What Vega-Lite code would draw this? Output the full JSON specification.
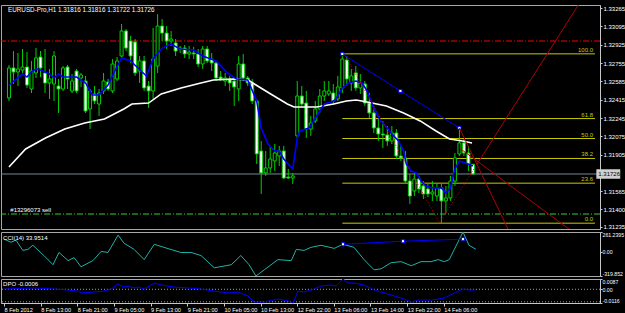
{
"$schema":"https://vega.github.io/schema/vega-lite/v6.json",
"background":"#000000",
"padding":{"top":4,"left":0,"right":0,"bottom":0},
"spacing":3,
"bounds":"flush",
"resolve":{"scale":{"x":"independent","y":"independent"}},
"config":{"view":{"stroke":"#a8a8a8","strokeWidth":1},"font":"Liberation Sans",
 "axis":{"grid":false,"title":null,"labelColor":"#ffffff","domainColor":"#c8c8c8","tickColor":"#c8c8c8","labelFontSize":6,"tickSize":2,"labelPadding":1,"labelFont":"Liberation Sans","labelOverlap":false}},
"datasets":{
"candles":[
{"i":0,"o":1.32431,"h":1.32737,"l":1.32403,"c":1.32709},
{"i":1,"o":1.32709,"h":1.32866,"l":1.32561,"c":1.32672},
{"i":2,"o":1.32672,"h":1.32848,"l":1.32542,"c":1.32700},
{"i":3,"o":1.32690,"h":1.32885,"l":1.32663,"c":1.32718},
{"i":4,"o":1.32718,"h":1.32857,"l":1.32524,"c":1.32551},
{"i":5,"o":1.32514,"h":1.32774,"l":1.32477,"c":1.32681},
{"i":6,"o":1.32663,"h":1.32894,"l":1.32616,"c":1.32802},
{"i":7,"o":1.32811,"h":1.32866,"l":1.32625,"c":1.32709},
{"i":8,"o":1.32663,"h":1.32885,"l":1.32477,"c":1.32570},
{"i":9,"o":1.32570,"h":1.32700,"l":1.32422,"c":1.32607},
{"i":10,"o":1.32561,"h":1.32866,"l":1.32403,"c":1.32820},
{"i":11,"o":1.32542,"h":1.32607,"l":1.32292,"c":1.32514},
{"i":12,"o":1.32514,"h":1.32727,"l":1.32496,"c":1.32709},
{"i":13,"o":1.32718,"h":1.32737,"l":1.32514,"c":1.32607},
{"i":14,"o":1.32496,"h":1.32653,"l":1.32477,"c":1.32588},
{"i":15,"o":1.32681,"h":1.32700,"l":1.32477,"c":1.32496},
{"i":16,"o":1.32616,"h":1.32663,"l":1.32533,"c":1.32644},
{"i":17,"o":1.32588,"h":1.32635,"l":1.32292,"c":1.32310},
{"i":18,"o":1.32329,"h":1.32514,"l":1.32143,"c":1.32496},
{"i":19,"o":1.32468,"h":1.32542,"l":1.32375,"c":1.32403},
{"i":20,"o":1.32375,"h":1.32514,"l":1.32264,"c":1.32477},
{"i":21,"o":1.32496,"h":1.32663,"l":1.32468,"c":1.32588},
{"i":22,"o":1.32579,"h":1.32607,"l":1.32496,"c":1.32514},
{"i":23,"o":1.32496,"h":1.32792,"l":1.32477,"c":1.32746},
{"i":24,"o":1.32607,"h":1.32811,"l":1.32588,"c":1.32774},
{"i":25,"o":1.32820,"h":1.33117,"l":1.32802,"c":1.33052},
{"i":26,"o":1.33052,"h":1.33070,"l":1.32866,"c":1.32894},
{"i":27,"o":1.32959,"h":1.33006,"l":1.32755,"c":1.32820},
{"i":28,"o":1.32950,"h":1.32978,"l":1.32635,"c":1.32663},
{"i":29,"o":1.32681,"h":1.32820,"l":1.32570,"c":1.32774},
{"i":30,"o":1.32774,"h":1.32820,"l":1.32496,"c":1.32524},
{"i":31,"o":1.32542,"h":1.32588,"l":1.32338,"c":1.32496},
{"i":32,"o":1.32496,"h":1.33080,"l":1.32422,"c":1.32792},
{"i":33,"o":1.32727,"h":1.33209,"l":1.32663,"c":1.33098},
{"i":34,"o":1.33098,"h":1.33163,"l":1.32959,"c":1.33033},
{"i":35,"o":1.33033,"h":1.33098,"l":1.32885,"c":1.32959},
{"i":36,"o":1.32959,"h":1.33052,"l":1.32913,"c":1.32978},
{"i":37,"o":1.32941,"h":1.32978,"l":1.32820,"c":1.32866},
{"i":38,"o":1.32885,"h":1.32913,"l":1.32848,"c":1.32894},
{"i":39,"o":1.32894,"h":1.32922,"l":1.32802,"c":1.32839},
{"i":40,"o":1.32839,"h":1.32913,"l":1.32792,"c":1.32857},
{"i":41,"o":1.32848,"h":1.32904,"l":1.32792,"c":1.32839},
{"i":42,"o":1.32839,"h":1.32885,"l":1.32718,"c":1.32746},
{"i":43,"o":1.32746,"h":1.32913,"l":1.32700,"c":1.32885},
{"i":44,"o":1.32885,"h":1.32913,"l":1.32755,"c":1.32774},
{"i":45,"o":1.32792,"h":1.32848,"l":1.32681,"c":1.32755},
{"i":46,"o":1.32755,"h":1.32774,"l":1.32588,"c":1.32616},
{"i":47,"o":1.32625,"h":1.32681,"l":1.32588,"c":1.32607},
{"i":48,"o":1.32588,"h":1.32663,"l":1.32542,"c":1.32616},
{"i":49,"o":1.32607,"h":1.32635,"l":1.32496,"c":1.32570},
{"i":50,"o":1.32588,"h":1.32625,"l":1.32357,"c":1.32533},
{"i":51,"o":1.32514,"h":1.32820,"l":1.32403,"c":1.32746},
{"i":52,"o":1.32746,"h":1.32839,"l":1.32588,"c":1.32616},
{"i":53,"o":1.32616,"h":1.32635,"l":1.32542,"c":1.32570},
{"i":54,"o":1.32570,"h":1.32607,"l":1.32375,"c":1.32403},
{"i":55,"o":1.32403,"h":1.32422,"l":1.31819,"c":1.31912},
{"i":56,"o":1.31939,"h":1.32032,"l":1.31541,"c":1.31736},
{"i":57,"o":1.31736,"h":1.31939,"l":1.31708,"c":1.31782},
{"i":58,"o":1.31782,"h":1.31986,"l":1.31736,"c":1.31865},
{"i":59,"o":1.31847,"h":1.32004,"l":1.31754,"c":1.31921},
{"i":60,"o":1.31893,"h":1.31986,"l":1.31800,"c":1.31939},
{"i":61,"o":1.31939,"h":1.31986,"l":1.31680,"c":1.31689},
{"i":62,"o":1.31698,"h":1.31773,"l":1.31680,"c":1.31689},
{"i":63,"o":1.31689,"h":1.31736,"l":1.31634,"c":1.31708},
{"i":64,"o":1.32079,"h":1.32588,"l":1.32060,"c":1.32449},
{"i":65,"o":1.32449,"h":1.32542,"l":1.32357,"c":1.32375},
{"i":66,"o":1.32384,"h":1.32496,"l":1.32060,"c":1.32143},
{"i":67,"o":1.32143,"h":1.32264,"l":1.32079,"c":1.32199},
{"i":68,"o":1.32218,"h":1.32403,"l":1.32199,"c":1.32329},
{"i":69,"o":1.32329,"h":1.32514,"l":1.32292,"c":1.32449},
{"i":70,"o":1.32449,"h":1.32588,"l":1.32403,"c":1.32496},
{"i":71,"o":1.32468,"h":1.32588,"l":1.32449,"c":1.32496},
{"i":72,"o":1.32477,"h":1.32561,"l":1.32375,"c":1.32403},
{"i":73,"o":1.32422,"h":1.32635,"l":1.32403,"c":1.32533},
{"i":74,"o":1.32524,"h":1.32839,"l":1.32477,"c":1.32792},
{"i":75,"o":1.32783,"h":1.32820,"l":1.32542,"c":1.32607},
{"i":76,"o":1.32570,"h":1.32700,"l":1.32496,"c":1.32635},
{"i":77,"o":1.32663,"h":1.32727,"l":1.32496,"c":1.32524},
{"i":78,"o":1.32524,"h":1.32653,"l":1.32468,"c":1.32570},
{"i":79,"o":1.32561,"h":1.32588,"l":1.32357,"c":1.32384},
{"i":80,"o":1.32384,"h":1.32477,"l":1.32245,"c":1.32292},
{"i":81,"o":1.32292,"h":1.32357,"l":1.32106,"c":1.32153},
{"i":82,"o":1.32153,"h":1.32236,"l":1.32032,"c":1.32097},
{"i":83,"o":1.32097,"h":1.32218,"l":1.31967,"c":1.32088},
{"i":84,"o":1.32088,"h":1.32171,"l":1.31986,"c":1.32032},
{"i":85,"o":1.32032,"h":1.32171,"l":1.32004,"c":1.32106},
{"i":86,"o":1.32106,"h":1.32143,"l":1.31865,"c":1.31893},
{"i":87,"o":1.31893,"h":1.31986,"l":1.31847,"c":1.31875},
{"i":88,"o":1.31875,"h":1.31939,"l":1.31643,"c":1.31661},
{"i":89,"o":1.31661,"h":1.31726,"l":1.31448,"c":1.31522},
{"i":90,"o":1.31569,"h":1.31736,"l":1.31522,"c":1.31680},
{"i":91,"o":1.31680,"h":1.31708,"l":1.31550,"c":1.31587},
{"i":92,"o":1.31615,"h":1.31661,"l":1.31495,"c":1.31541},
{"i":93,"o":1.31587,"h":1.31634,"l":1.31513,"c":1.31541},
{"i":94,"o":1.31541,"h":1.31661,"l":1.31476,"c":1.31559},
{"i":95,"o":1.31522,"h":1.31643,"l":1.31476,"c":1.31597},
{"i":96,"o":1.31597,"h":1.31634,"l":1.31272,"c":1.31476},
{"i":97,"o":1.31476,"h":1.31615,"l":1.31365,"c":1.31504},
{"i":98,"o":1.31504,"h":1.31708,"l":1.31476,"c":1.31661},
{"i":99,"o":1.31661,"h":1.31921,"l":1.31615,"c":1.31875},
{"i":100,"o":1.31912,"h":1.32143,"l":1.31893,"c":1.32014},
{"i":101,"o":1.32014,"h":1.32051,"l":1.31893,"c":1.31921},
{"i":102,"o":1.31921,"h":1.31986,"l":1.31754,"c":1.31819},
{"i":103,"o":1.31816,"h":1.31816,"l":1.31722,"c":1.31726}
],
"maFast":[
{"i":0,"p":1.32551},{"i":3,"p":1.32653},{"i":4,"p":1.32625},{"i":5,"p":1.32672},{"i":6,"p":1.32700},{"i":7,"p":1.32690},{"i":9,"p":1.32653},{"i":10,"p":1.32616},{"i":11,"p":1.32653},{"i":12,"p":1.32625},{"i":15,"p":1.32625},{"i":16,"p":1.32598},{"i":17,"p":1.32570},{"i":18.5,"p":1.32459},{"i":20,"p":1.32459},{"i":21,"p":1.32505},{"i":22,"p":1.32551},{"i":23.5,"p":1.32681},{"i":25,"p":1.32802},{"i":27,"p":1.32774},{"i":30.5,"p":1.32635},{"i":32,"p":1.32792},{"i":34,"p":1.32894},{"i":36,"p":1.32931},{"i":38,"p":1.32885},{"i":41,"p":1.32876},{"i":43,"p":1.32820},{"i":46,"p":1.32774},{"i":48.5,"p":1.32663},{"i":50.5,"p":1.32607},{"i":53,"p":1.32598},{"i":55,"p":1.32403},{"i":56,"p":1.32153},{"i":57.5,"p":1.32004},{"i":59,"p":1.31939},{"i":60,"p":1.31939},{"i":61,"p":1.31865},{"i":63,"p":1.31773},{"i":64,"p":1.32060},{"i":64.6,"p":1.32125},{"i":66.6,"p":1.32153},{"i":68.3,"p":1.32264},{"i":70,"p":1.32375},{"i":72,"p":1.32403},{"i":72.7,"p":1.32431},{"i":74,"p":1.32524},{"i":75.5,"p":1.32570},{"i":77,"p":1.32588},{"i":78.4,"p":1.32570},{"i":79.5,"p":1.32496},{"i":81,"p":1.32338},{"i":82.5,"p":1.32218},{"i":84,"p":1.32153},{"i":85,"p":1.32097},{"i":86.5,"p":1.32032},{"i":87.6,"p":1.31939},{"i":88.2,"p":1.31819},{"i":89.3,"p":1.31754},{"i":90.4,"p":1.31736},{"i":91.5,"p":1.31661},{"i":92.6,"p":1.31615},{"i":94,"p":1.31597},{"i":96,"p":1.31597},{"i":97,"p":1.31550},{"i":98,"p":1.31597},{"i":99,"p":1.31773},{"i":100,"p":1.31847},{"i":101.3,"p":1.31828},{"i":103,"p":1.31800}
],
"maSlow":[
{"i":0,"p":1.31791},{"i":3.7,"p":1.31958},{"i":8.1,"p":1.32060},{"i":12.4,"p":1.32143},{"i":16.8,"p":1.32199},{"i":21.2,"p":1.32236},{"i":25.5,"p":1.32329},{"i":27.3,"p":1.32375},{"i":31,"p":1.32384},{"i":33.8,"p":1.32468},{"i":38.2,"p":1.32524},{"i":42.6,"p":1.32570},{"i":45.4,"p":1.32598},{"i":49.8,"p":1.32607},{"i":53.1,"p":1.32598},{"i":55.2,"p":1.32542},{"i":58.1,"p":1.32468},{"i":61.8,"p":1.32375},{"i":63.3,"p":1.32347},{"i":68.3,"p":1.32347},{"i":72.1,"p":1.32375},{"i":74.9,"p":1.32403},{"i":77.1,"p":1.32412},{"i":79.5,"p":1.32394},{"i":83.8,"p":1.32357},{"i":87.6,"p":1.32292},{"i":91.3,"p":1.32218},{"i":94.8,"p":1.32125},{"i":97.8,"p":1.32051},{"i":100.7,"p":1.32032},{"i":102.8,"p":1.32014}
],
"fib":[
{"lvl":"100.0","p":1.32840,"i0":74,"i1":130.1},
{"lvl":"61.8","p":1.32240,"i0":74,"i1":130.1},
{"lvl":"50.0","p":1.32055,"i0":74,"i1":130.1},
{"lvl":"38.2","p":1.31870,"i0":74,"i1":130.1},
{"lvl":"23.6","p":1.31641,"i0":74,"i1":130.1},
{"lvl":"0.0","p":1.31270,"i0":74,"i1":130.1}
],
"bid":[{"t":"1.31726","p":1.31726,"p0":1.31682,"p1":1.31770,"i0":130.4,"i1":135.7}],
"trend":[{"i":74,"p":1.32839},{"i":86.9,"p":1.32496},{"i":100,"p":1.32153}],
"redDotted":[
{"seg":"a","i":74.7,"p":1.32820},{"seg":"a","i":95.6,"p":1.31272},
{"seg":"b","i":95.6,"p":1.31272},{"seg":"b","i":103.8,"p":1.31810}
],
"redSolid":[
{"seg":"b","i":103.8,"p":1.31810},{"seg":"b","i":127.1,"p":1.33339},
{"seg":"c","i":100,"p":1.32153},{"seg":"c","i":111.2,"p":1.31179},
{"seg":"d","i":100,"p":1.31967},{"seg":"d","i":125.5,"p":1.31179}
],
"cci":[
{"i":0,"v":166.7},{"i":1.5,"v":126.1},{"i":2.6,"v":153.2},{"i":4.1,"v":18.1},{"i":5.2,"v":31.6},{"i":6.3,"v":85.6},{"i":8.7,"v":-49.5},{"i":10.7,"v":-171.1},{"i":12,"v":-9.0},{"i":14,"v":-117.0},{"i":15.3,"v":-76.5},{"i":16.8,"v":-198.1},{"i":19.4,"v":-117.0},{"i":21.2,"v":4.6},{"i":22.7,"v":-9.0},{"i":24.9,"v":220.7},{"i":26.2,"v":112.6},{"i":28.4,"v":31.6},{"i":30.6,"v":-103.5},{"i":32.8,"v":99.1},{"i":34.9,"v":58.6},{"i":38.6,"v":-9.0},{"i":40.8,"v":-9.0},{"i":43,"v":-49.5},{"i":45.9,"v":-211.6},{"i":49.6,"v":-171.1},{"i":51.7,"v":-49.5},{"i":53.5,"v":-171.1},{"i":55,"v":-319.85},{"i":56.8,"v":-238.6},{"i":59.8,"v":-103.5},{"i":62.7,"v":-117.0},{"i":63.8,"v":31.6},{"i":65.5,"v":18.1},{"i":67,"v":58.6},{"i":69.2,"v":85.6},{"i":72.1,"v":45.1},{"i":74,"v":99.1},{"i":76.4,"v":58.6},{"i":78.6,"v":-103.5},{"i":80.8,"v":-238.6},{"i":82.3,"v":-225.1},{"i":84.5,"v":-144.1},{"i":86.7,"v":-130.6},{"i":88.9,"v":-184.6},{"i":91,"v":-130.6},{"i":93.2,"v":-130.6},{"i":94.8,"v":-103.5},{"i":96.1,"v":-130.6},{"i":97.2,"v":-103.5},{"i":98.3,"v":31.6},{"i":100.2,"v":261.24},{"i":101.5,"v":85.6},{"i":103,"v":33.95}
],
"cciTrend":[{"i":74,"v":99.1},{"i":87.1,"v":139.6},{"i":100.2,"v":166.7}],
"dpo":[
{"i":0,"v":0.0002},{"i":6.6,"v":0.0011},{"i":10.9,"v":0.0002},{"i":14,"v":-0.0006},{"i":16.2,"v":-0.0015},{"i":16.8,"v":-0.0031},{"i":19.7,"v":-0.0023},{"i":21.8,"v":-0.0015},{"i":23.4,"v":0.0002},{"i":24.9,"v":0.0045},{"i":26,"v":0.0019},{"i":27.1,"v":0.0028},{"i":28.4,"v":0.0011},{"i":29.3,"v":0.0019},{"i":30.6,"v":0.0002},{"i":32.8,"v":0.0053},{"i":34.3,"v":0.0036},{"i":37.1,"v":0.0019},{"i":40.2,"v":0.0011},{"i":43,"v":0.0002},{"i":45.9,"v":-0.0015},{"i":48.9,"v":-0.0031},{"i":51.1,"v":-0.0023},{"i":53.3,"v":-0.0057},{"i":54.6,"v":-0.0108},{"i":56.8,"v":-0.0108},{"i":59.8,"v":-0.0082},{"i":62,"v":-0.0099},{"i":63.1,"v":-0.0116},{"i":64.2,"v":-0.0015},{"i":65.5,"v":-0.0023},{"i":67.7,"v":0.0002},{"i":69.2,"v":0.0028},{"i":71.4,"v":0.0036},{"i":72.5,"v":0.0028},{"i":74,"v":0.0087},{"i":75.1,"v":0.0053},{"i":76.4,"v":0.0053},{"i":78.6,"v":0.0036},{"i":80.8,"v":-0.0006},{"i":83.8,"v":-0.0040},{"i":86.7,"v":-0.0074},{"i":88.9,"v":-0.0108},{"i":90.4,"v":-0.0091},{"i":93.2,"v":-0.0091},{"i":96.1,"v":-0.0074},{"i":98.3,"v":-0.0031},{"i":100.2,"v":0.0002},{"i":101.5,"v":-0.0006},{"i":103,"v":-0.0006}
]
},
"vconcat":[
{
"width":599,"height":224,
"layer":[
{"data":{"name":"fib"},"mark":{"type":"rule","color":"#c8c800","strokeWidth":1},
 "encoding":{"x":{"field":"i0","type":"quantitative","scale":{"domain":[-0.66,130.1],"nice":false,"zero":false},"axis":null},"x2":{"field":"i1"},
  "y":{"field":"p","type":"quantitative","scale":{"domain":[1.31216,1.33293],"nice":false,"zero":false},
   "axis":{"orient":"right","tickCount":40,"values":[1.33265,1.33095,1.32925,1.32755,1.32585,1.32415,1.32245,1.32075,1.31905,1.31565,1.314,1.31235],"format":".5f","labelFlush":false,"labelOverlap":false}}}},
{"data":{"name":"fib"},"mark":{"type":"text","color":"#c8c800","fontSize":6,"align":"right","baseline":"bottom","dx":-2,"dy":-1},
 "encoding":{"x":{"field":"i1","type":"quantitative"},"y":{"field":"p","type":"quantitative"},"text":{"field":"lvl"}}},
{"data":{"values":[{"p":1.32959}]},"mark":{"type":"rule","color":"#ff0000","strokeWidth":1,"strokeDash":[6,2,1,2]},
 "encoding":{"y":{"field":"p","type":"quantitative"}}},
{"data":{"values":[{"p":1.31726}]},"mark":{"type":"rule","color":"#778899","strokeWidth":1},
 "encoding":{"y":{"field":"p","type":"quantitative"}}},
{"data":{"values":[{"p":1.31355}]},"mark":{"type":"rule","color":"#32cd32","strokeWidth":1,"strokeDash":[6,2,1,2]},
 "encoding":{"y":{"field":"p","type":"quantitative"}}},
{"data":{"values":[{"t":"#13296073 sell","i":0.3,"p":1.31395}]},"mark":{"type":"text","color":"#ffffff","fontSize":6,"align":"left","baseline":"middle"},
 "encoding":{"x":{"field":"i","type":"quantitative"},"y":{"field":"p","type":"quantitative"},"text":{"field":"t"}}},
{"data":{"name":"candles"},"mark":{"type":"rule","color":"#00d000","strokeWidth":1},
 "encoding":{"x":{"field":"i","type":"quantitative"},"y":{"field":"l","type":"quantitative"},"y2":{"field":"h"}}},
{"data":{"name":"candles"},"mark":{"type":"bar","width":3,"stroke":"#00d000","strokeWidth":1},
 "encoding":{"x":{"field":"i","type":"quantitative"},"y":{"field":"o","type":"quantitative"},"y2":{"field":"c"},
  "fill":{"condition":{"test":"datum.c < datum.o","value":"#ffffff"},"value":"#000000"}}},
{"data":{"name":"maSlow"},"mark":{"type":"line","color":"#ffffff","strokeWidth":1.6},
 "encoding":{"x":{"field":"i","type":"quantitative"},"y":{"field":"p","type":"quantitative"}}},
{"data":{"name":"maFast"},"mark":{"type":"line","color":"#0000ff","strokeWidth":1.6},
 "encoding":{"x":{"field":"i","type":"quantitative"},"y":{"field":"p","type":"quantitative"}}},
{"data":{"name":"trend"},"mark":{"type":"line","color":"#0000ff","strokeWidth":1},
 "encoding":{"x":{"field":"i","type":"quantitative"},"y":{"field":"p","type":"quantitative"}}},
{"data":{"name":"trend"},"mark":{"type":"point","shape":"square","size":10,"filled":true,"fill":"#ffffff","stroke":"#0000ff","strokeWidth":1,"opacity":1},
 "encoding":{"x":{"field":"i","type":"quantitative"},"y":{"field":"p","type":"quantitative"}}},
{"data":{"name":"redDotted"},"mark":{"type":"line","color":"#d00000","strokeWidth":1,"strokeDash":[1,2],"clip":true},
 "encoding":{"x":{"field":"i","type":"quantitative"},"y":{"field":"p","type":"quantitative"},"detail":{"field":"seg"}}},
{"data":{"name":"redSolid"},"mark":{"type":"line","color":"#b00000","strokeWidth":1,"clip":true},
 "encoding":{"x":{"field":"i","type":"quantitative"},"y":{"field":"p","type":"quantitative"},"detail":{"field":"seg"}}},
{"data":{"name":"bid"},"mark":{"type":"rect","fill":"#d0d0d0"},
 "encoding":{"x":{"field":"i0","type":"quantitative"},"x2":{"field":"i1"},"y":{"field":"p0","type":"quantitative"},"y2":{"field":"p1"}}},
{"data":{"name":"bid"},"mark":{"type":"text","color":"#000000","fontSize":6,"align":"left","baseline":"middle","dx":2},
 "encoding":{"x":{"field":"i0","type":"quantitative"},"y":{"field":"p","type":"quantitative"},"text":{"field":"t"}}},
{"data":{"values":[{"t":"EURUSD-Pro,H1  1.31816 1.31816 1.31722 1.31726","i":-0.2,"p":1.33247}]},"mark":{"type":"text","color":"#ffffff","fontSize":6.3,"align":"left","baseline":"middle"},
 "encoding":{"x":{"field":"i","type":"quantitative"},"y":{"field":"p","type":"quantitative"},"text":{"field":"t"}}}
]
},
{
"width":599,"height":44,
"layer":[
{"data":{"name":"cci"},"mark":{"type":"line","color":"#20b2aa","strokeWidth":1},
 "encoding":{"x":{"field":"i","type":"quantitative","scale":{"domain":[-0.66,130.1],"nice":false,"zero":false},"axis":null},
  "y":{"field":"v","type":"quantitative","scale":{"domain":[-319.852,261.2395],"nice":false,"zero":false},
   "axis":{"orient":"right","tickCount":10,"values":[261.2395,0,-319.852],"labelFlush":true,"labelOverlap":false,"labelFontSize":5.2,"labelPadding":0,"labelExpr":"datum.value > 1 ? '261.2395' : (datum.value < -1 ? '-319.852' : '0.00')"}}}},
{"data":{"name":"cciTrend"},"mark":{"type":"line","color":"#0000ff","strokeWidth":1},
 "encoding":{"x":{"field":"i","type":"quantitative"},"y":{"field":"v","type":"quantitative"}}},
{"data":{"name":"cciTrend"},"mark":{"type":"point","shape":"square","size":10,"filled":true,"fill":"#ffffff","stroke":"#0000ff","strokeWidth":1,"opacity":1},
 "encoding":{"x":{"field":"i","type":"quantitative"},"y":{"field":"v","type":"quantitative"}}},
{"data":{"values":[{"t":"CCI(14) 33.9514","i":-0.2,"v":180}]},"mark":{"type":"text","color":"#ffffff","fontSize":6,"align":"left","baseline":"middle"},
 "encoding":{"x":{"field":"i","type":"quantitative"},"y":{"field":"v","type":"quantitative"},"text":{"field":"t"}}}
]
},
{
"width":599,"height":24,
"layer":[
{"data":{"values":[{"v":0},{"v":-0.0106}]},"mark":{"type":"rule","color":"#a0a0a0","strokeWidth":1,"strokeDash":[1,2]},
 "encoding":{"y":{"field":"v","type":"quantitative","scale":{"domain":[-0.0116,0.0087],"nice":false,"zero":false},
   "axis":{"orient":"right","tickCount":10,"values":[0.0087,0,-0.0116],"labelFlush":true,"labelOverlap":false,"labelFontSize":5.2,"labelPadding":0,"labelExpr":"datum.value > 0.001 ? '0.0087' : (datum.value < -0.001 ? '-0.0116' : '0.00')"}}}},
{"data":{"name":"dpo"},"mark":{"type":"line","color":"#0000ff","strokeWidth":1},
 "encoding":{"x":{"field":"i","type":"quantitative","scale":{"domain":[-0.66,130.1],"nice":false,"zero":false},
   "axis":{"orient":"bottom","tickCount":40,"values":[0,8,16,24,32,40,48,56,64,72,80,88,96],"labelAlign":"left","labelBaseline":"top","labelPadding":1,"tickSize":3,"labelFontSize":5.6,"labelOverlap":false,"labelFlush":false,
    "labelExpr":"['8 Feb 2012','8 Feb 13:00','8 Feb 21:00','9 Feb 05:00','9 Feb 13:00','9 Feb 21:00','10 Feb 05:00','10 Feb 13:00','12 Feb 22:00','13 Feb 06:00','13 Feb 14:00','13 Feb 22:00','14 Feb 06:00'][round(datum.value/8)]"}},
  "y":{"field":"v","type":"quantitative"}}},
{"data":{"values":[{"t":"DPO -0.0006","i":-0.2,"v":0.0045}]},"mark":{"type":"text","color":"#ffffff","fontSize":6,"align":"left","baseline":"middle"},
 "encoding":{"x":{"field":"i","type":"quantitative"},"y":{"field":"v","type":"quantitative"},"text":{"field":"t"}}}
]
}
]
}
